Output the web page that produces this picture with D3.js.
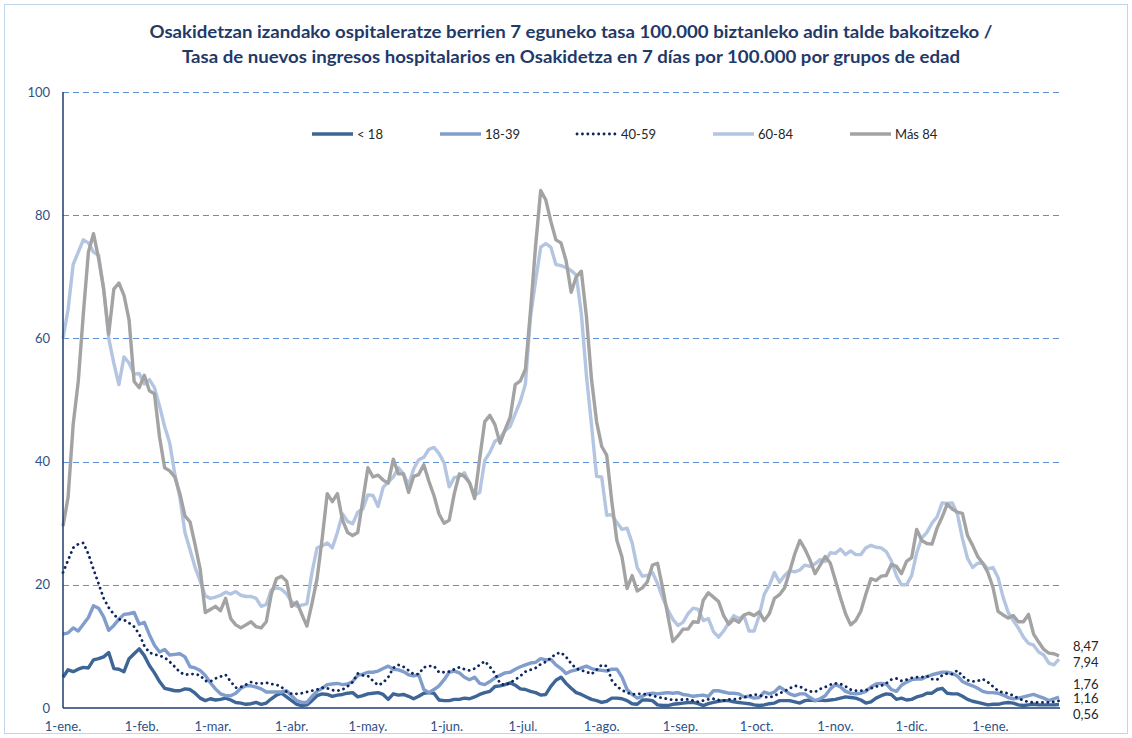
<!DOCTYPE html>
<meta charset="utf-8">
<style>
body { margin: 0; background: #fff; }
svg { display: block; font-family: Lato, "Liberation Sans", sans-serif; }
.grid line { stroke: #5b8fd8; stroke-dasharray: 6,4; stroke-width: 1; }
.axis-line { stroke: #1f3b6c; stroke-width: 1.5; }
.tick-label { font-size: 13px; fill: #2f5185; }
.legend text, .end-label { font-size: 13px; fill: #262626; }
.title { font-weight: bold; font-size: 16.5px; fill: #1f3a68; }
.serie { fill: none; stroke-linejoin: round; }
</style>
<svg width="1132" height="738"></svg>
<script src="https://d3js.org/d3.v7.min.js"></script>

<script>
// valores cada 2 dias desde el 1-ene-2021
var startDate = new Date(2021, 0, 1);
var stepDays = 2;

var menos18 = [
  5, 6.2, 5.9, 6.3, 6.6, 6.5, 7.8, 8, 8.3, 9,
  6.4, 6.3, 5.9, 8, 8.8, 9.6, 8.5, 6.9, 5.7, 4.3,
  3.2, 3, 2.8, 2.8, 3.1, 3, 2.4, 1.6, 1.2, 1.5,
  1.3, 1.4, 1.6, 1.3, 0.9, 0.8, 0.6, 0.7, 0.9, 0.6,
  0.8, 1.5, 2.1, 2.4, 1.8, 1.2, 0.6, 0.4, 0.5, 1.2,
  2, 2.3, 2.2, 1.9, 2.1, 2.2, 2.4, 2.5, 1.8, 2,
  2.3, 2.4, 2.5, 2.2, 1.4, 2.3, 2.1, 2.2, 1.9, 1.5,
  1.9, 2.4, 2.5, 2.4, 1.3, 1.2, 1.2, 1.4, 1.4, 1.6,
  1.5, 1.8, 2.2, 2.5, 2.7, 3.5, 3.6, 3.8, 4.1, 3.7,
  3.1, 3, 2.7, 2.5, 2.1, 2.2, 3.5, 4.5, 5, 4,
  3.2, 2.5, 2.2, 1.8, 1.4, 1.2, 0.9, 1.1, 1.6, 1.6,
  1.5, 1.2, 0.7, 0.6, 1.3, 1.3, 1.2, 0.5, 0.4, 0.4,
  0.6, 0.7, 0.8, 0.9, 0.9, 0.7, 0.4, 0.7, 0.9, 1.1,
  1.2, 1.2, 1, 0.9, 0.8, 0.7, 0.5, 0.4, 0.5, 0.7,
  0.8, 1.2, 1.2, 1.2, 1, 0.8, 1.2, 1.3, 1.2, 1.3,
  1.2, 1.3, 1.4, 1.6, 1.8, 1.7, 1.6, 1.3, 0.8, 1,
  1.6, 2, 2.3, 2.2, 1.4, 1.6, 1.3, 1.4, 1.8, 2,
  2.4, 2.4, 3, 3.2, 2.4, 2.3, 2.3, 1.9, 1.4, 1.1,
  0.9, 0.7, 0.5, 0.6, 0.6, 0.8, 0.9, 0.8, 0.5, 0.4,
  0.5, 0.6, 0.5, 0.5, 0.5, 0.5, 0.56];

var edad18_39 = [
  12, 12.2, 13, 12.5, 13.6, 14.7, 16.6, 16.2, 14.8, 12.6,
  13.4, 14.4, 15.2, 15.3, 15.5, 13.6, 13.9, 11.9, 10.2, 9.1,
  9.5, 8.6, 8.7, 8.8, 8.3, 6.7, 6.5, 6.1, 5.3, 4.1,
  3.1, 2.3, 2, 2, 2.4, 3.2, 3.6, 3.6, 3.4, 3.1,
  2.6, 2.6, 2.6, 2.6, 2.8, 2, 1.2, 0.9, 0.9, 1.9,
  2.7, 3.2, 3.8, 3.9, 4, 3.8, 3.9, 4.3, 5.3, 5.5,
  5.8, 5.8, 6, 6.4, 6.8, 6.3, 6.2, 5.9, 5.4, 5.2,
  5.4, 3, 2.5, 3, 3.6, 4.6, 5.8, 6, 5.7, 5,
  4.6, 5, 4, 3.8, 4.3, 4.9, 5.3, 5.7, 5.8, 6.3,
  6.7, 7, 7.3, 7.4, 8, 7.8, 7.9, 7, 6.4, 5.6,
  6, 6.2, 6.5, 6.8, 6.4, 6.2, 6.1, 6, 6.3, 6.3,
  5, 3, 2.2, 1.6, 1.9, 2.3, 2.4, 2.3, 2.4, 2.5,
  2.4, 2.5, 2.2, 2.1, 1.9, 2, 2.1, 1.9, 2.8, 2.8,
  2.6, 2.4, 2.4, 2.3, 1.8, 1.9, 1.6, 1.7, 2.6, 2.3,
  2.6, 3.4, 2.9, 2.3, 2, 2.3, 2.3, 1.7, 1.2, 1.5,
  2, 3.1, 3.8, 3.4, 2.7, 2.4, 2.3, 2.4, 2.7, 3.4,
  3.9, 4, 3.9, 3, 2.7, 3.7, 4.2, 4.6, 4.7, 4.7,
  5.1, 5.4, 5.6, 5.8, 5.8, 5.6, 5.2, 4.3, 3.9, 3.6,
  3.2, 2.7, 2.5, 2.5, 2.4, 2.1, 1.7, 1.5, 1.6, 1.8,
  2, 2.2, 1.9, 1.6, 1.2, 1.5, 1.76];

var edad40_59 = [
  22, 24, 26, 26.6, 26.8, 25, 22.5, 20.2, 17.8, 16.3,
  15.2, 14.4, 14.3, 13.8, 13.2, 12, 10.1, 9, 8.7, 8.5,
  8.2, 7.5, 6.7, 5.8, 5.4, 5.5, 5.5, 5.3, 4.4, 4.3,
  4.8, 5.1, 5.4, 4.3, 3.3, 3.4, 3.8, 4.2, 4, 4,
  4.1, 3.9, 3.8, 3.4, 2.6, 2.3, 2.3, 2.4, 2.6, 2.8,
  3, 3.3, 3.2, 2.9, 2.8, 3, 3.5, 4.2, 5.6, 5.3,
  5.2, 4.4, 3.7, 4.1, 5, 6.5, 7, 6.7, 6.1, 5.5,
  5.5, 6.6, 6.8, 6.8, 5.8, 5.8, 5.9, 6.3, 6.6, 6.3,
  6.1, 6.4, 7, 7.6, 6.7, 5.6, 4, 3.7, 4.1, 4.6,
  5.2, 5.9, 6.2, 6.5, 7.1, 7.5, 8.1, 8.8, 9, 8.3,
  7.2, 6.4, 6.1, 5.9, 5.5, 6.2, 7, 6.8, 4.5, 3.5,
  2.9, 2.5, 2.2, 2.3, 2.3, 2.2, 2, 1.8, 1.6, 1.5,
  1.3, 1.3, 1.4, 1.4, 1.2, 1, 1.2, 1.4, 1.5, 1.3,
  1.2, 1.4, 1.4, 1.5, 1.7, 2, 2.2, 2.1, 1.8, 1.7,
  2, 2.4, 2.7, 3.2, 3.6, 3.5, 3, 2.7, 2.6, 3.1,
  3.4, 3.8, 4, 3.9, 3.5, 3, 2.8, 2.8, 2.9, 3.2,
  3.5, 3.6, 4, 4.6, 4.8, 4.4, 4.6, 4.9, 5, 5,
  5.2, 4.7, 4.6, 5.3, 5.6, 5.5, 6.1, 5.2, 4.5, 4.3,
  4.4, 4.7, 4.2, 3.5, 2.8, 2.5, 2.4, 2, 1.6, 1.2,
  1, 0.9, 0.9, 0.9, 0.9, 1, 1.16];

var edad60_84 = [
  60, 64.7, 72, 74, 76, 75.5, 74, 73.5, 68, 60,
  56, 52.5, 57, 56, 54.2, 54.3, 52.6, 53.3, 52, 49,
  45.7, 43, 38, 34.2, 28.5, 25.7, 22.8, 20.6, 18.2, 17.8,
  18, 18.3, 18.8, 18.5, 18.9, 18.3, 18.1, 18.1, 17.8, 16.5,
  16.8, 19.2, 19.5, 19.3, 18.5, 17.3, 16.5, 16.7, 16.9, 22,
  26, 26.3, 26.8, 26, 28.5, 31.5, 30.3, 29.9, 31.8, 32.3,
  34.6, 34.5, 32.7, 35.8, 36.7, 37.5, 39, 38, 36.2, 38.8,
  40.3, 40.7, 42, 42.3, 41.3, 39.8, 35.9, 37.4, 37.6, 38.2,
  36.5, 34.5, 35, 40.2, 41.5, 43.3, 43.8, 45, 45.7, 47.8,
  49.8, 52.6, 63.5, 69.3, 74.8, 75.4, 74.8, 72, 71.8, 71.5,
  71, 70.3, 64, 54, 46, 37.6, 37.5, 31.3, 31.4, 30.1,
  29, 29.2, 26.8, 22.8, 21.4, 21.5, 22, 20.2, 17.9, 16,
  14.4, 13.4, 13.9, 15.3, 16.2, 16, 14.2, 14.5, 12.4, 11.5,
  12.5, 13.8, 15, 14.5, 15, 12.5, 12.5, 15, 18.5, 19.9,
  22, 20.4, 21.5, 22.3, 22.1, 22.4, 23.2, 23, 23.4, 24.1,
  23.8, 25.2, 25.1, 25.8, 24.9, 25.5, 24.9, 24.9, 26, 26.4,
  26.1, 26, 25.4, 23.9, 21.5, 20, 20, 21.5, 25.2, 27.6,
  28.5, 30, 31, 33.3, 33.2, 33.3, 31.5, 27.5, 24.3, 22.8,
  23.5, 23.5, 22.6, 22.8, 21.2, 18, 15.5, 14.2, 13, 11.5,
  10.5, 10.2, 9.1, 8.6, 7.3, 7, 7.94];

var mas84 = [
  29.5, 34.2, 46, 53, 64, 74, 77, 73, 68, 60.7,
  68, 69, 67, 63, 53, 52, 54, 51.5, 51, 44,
  39, 38.5, 37.5, 34.8, 31.2, 30.2, 26.5, 22.5, 15.5, 16,
  16.5, 15.8, 17.8, 14.5, 13.5, 13, 13.5, 14, 13.2, 13,
  14, 18.5, 21, 21.4, 20.6, 16.5, 17.2, 15.2, 13.3, 17,
  21, 27.5, 34.8, 33.5, 34.8, 30.5, 28.5, 28, 28.5, 33.7,
  39, 37.5, 37.8, 37, 36.5, 40.4, 38, 38, 35, 37.6,
  37.9, 39.5, 36.8, 34.5, 31.5, 30, 30.5, 34.8, 38, 37.6,
  36.6, 34, 40.5, 46.5, 47.5, 46, 43, 45.2, 47.2, 52.5,
  53.1, 55, 64.5, 75, 84, 82.5, 79, 76, 75.5, 72.6,
  67.5, 70, 70.9, 63.6, 53.4, 46.5, 42.5, 41, 33.5, 27.2,
  24.5, 19.4, 21.5, 19, 19.5, 20.5, 23.2, 23.5, 19.5, 15.1,
  10.8, 11.7, 12.8, 12.8, 14, 13.9, 17.5, 18.7, 18, 17.3,
  15, 13.6, 14.4, 13.9, 15.1, 15.4, 15, 15.6, 14.2, 15.3,
  17.8, 18.4, 19.5, 22.2, 25, 27.2, 25.8, 24, 21.8, 23.2,
  24.6, 23.5, 20.7, 17.9, 15.3, 13.5, 14.2, 15.7, 18.5, 21,
  20.7, 21.4, 21.5, 23.3, 23, 21.8, 23.8, 24.4, 29, 27.2,
  26.7, 26.6, 29.2, 31, 33.1, 32.3, 31.8, 31.6, 28, 26.4,
  24.6, 23.5, 22, 19.6, 15.7, 15.1, 14.6, 15, 14, 14,
  15.2, 12, 10.7, 9.5, 8.9, 8.8, 8.47];

var seriesNames = ["< 18", "18-39", "40-59", "60-84", "Más 84"];
var yTicks = [0, 20, 40, 60, 80, 100];
var monthNames = ["ene.", "feb.", "mar.", "abr.", "may.", "jun.", "jul.", "ago.", "sep.", "oct.", "nov.", "dic."];
var titleLines = [
  "Osakidetzan izandako ospitaleratze berrien 7 eguneko tasa 100.000 biztanleko adin talde bakoitzeko /",
  "Tasa de nuevos ingresos hospitalarios en Osakidetza en 7 días por 100.000 por grupos de edad"
];
</script>

<script>
var svg = d3.select("svg"),
    width = +svg.attr("width"),
    height = +svg.attr("height");

var margin = {top: 92, left: 63, bottom: 30};
var plotRight = 1059;

var series = [
  {name: seriesNames[0], values: menos18,   color: "#3d6595", width: 3.4, dash: null,      labelShift: 10},
  {name: seriesNames[1], values: edad18_39, color: "#809dcc", width: 3.4, dash: null,      labelShift: -13},
  {name: seriesNames[2], values: edad40_59, color: "#0d2660", width: 2.8, dash: "0.1 5.3", labelShift: -2},
  {name: seriesNames[3], values: edad60_84, color: "#b4c5e1", width: 3.4, dash: null,      labelShift: 3},
  {name: seriesNames[4], values: mas84,     color: "#a3a3a3", width: 3.4, dash: null,      labelShift: -9}
];
var legendX = [312, 440, 577, 713, 850];

series.forEach(function(s) {
  s.points = s.values.map(function(v, i) {
    return {date: d3.timeDay.offset(startDate, i * stepDays), value: v};
  });
});

var endDate = series[0].points[series[0].points.length - 1].date;

var x = d3.scaleTime()
    .domain([startDate, endDate])
    .range([margin.left, plotRight]);

var y = d3.scaleLinear()
    .domain([0, 100])
    .range([height - margin.bottom, margin.top]);

// marco exterior
svg.append("rect")
    .attr("x", 4.5).attr("y", 4.5)
    .attr("width", width - 9).attr("height", height - 9)
    .attr("fill", "none")
    .attr("stroke", "#c3d5ec");

svg.append("g")
  .selectAll("text")
  .data(titleLines)
  .enter().append("text")
    .attr("class", "title")
    .attr("x", 571)
    .attr("y", function(d, i) { return 38 + i * 25; })
    .attr("text-anchor", "middle")
    .attr("textLength", function(d, i) { return i === 0 ? 843 : 778; })
    .attr("lengthAdjust", "spacingAndGlyphs")
    .text(function(d) { return d; });

svg.append("g")
    .attr("class", "grid")
  .selectAll("line")
  .data(yTicks.filter(function(d) { return d > 0; }))
  .enter().append("line")
    .attr("x1", margin.left)
    .attr("x2", plotRight)
    .attr("y1", function(d) { return Math.round(y(d)) + 0.5; })
    .attr("y2", function(d) { return Math.round(y(d)) + 0.5; });

svg.append("g")
  .selectAll("text")
  .data(yTicks)
  .enter().append("text")
    .attr("class", "tick-label")
    .attr("x", margin.left - 13)
    .attr("y", function(d) { return y(d); })
    .attr("dy", "0.35em")
    .attr("text-anchor", "end")
    .text(function(d) { return d; });

svg.append("g")
  .selectAll("text")
  .data(x.ticks(d3.timeMonth.every(1)))
  .enter().append("text")
    .attr("class", "tick-label")
    .attr("x", function(d) { return x(d); })
    .attr("y", height - margin.bottom + 23)
    .attr("text-anchor", "middle")
    .text(function(d) { return d.getDate() + "-" + monthNames[d.getMonth()]; });

var line = d3.line()
    .x(function(d) { return x(d.date); })
    .y(function(d) { return y(d.value); });

svg.append("g")
  .selectAll("path")
  .data(series)
  .enter().append("path")
    .attr("class", "serie")
    .attr("d", function(d) { return line(d.points); })
    .attr("stroke", function(d) { return d.color; })
    .attr("stroke-width", function(d) { return d.width; })
    .attr("stroke-dasharray", function(d) { return d.dash; })
    .attr("stroke-linecap", function(d) { return d.dash ? "round" : "butt"; });

svg.append("line")
    .attr("class", "axis-line")
    .attr("x1", margin.left).attr("x2", margin.left)
    .attr("y1", y(100)).attr("y2", y(0));

svg.append("line")
    .attr("class", "axis-line")
    .attr("x1", margin.left).attr("x2", plotRight + 1)
    .attr("y1", y(0)).attr("y2", y(0));

var es = d3.formatLocale({decimal: ",", thousands: ".", grouping: [3], currency: ["", " €"]});
var fmt = es.format(".2f");

svg.append("g")
  .selectAll("text")
  .data(series)
  .enter().append("text")
    .attr("class", "end-label")
    .attr("x", plotRight + 14)
    .attr("y", function(d) { return y(d.values[d.values.length - 1]) + d.labelShift; })
    .attr("dy", "0.35em")
    .text(function(d) { return fmt(d.values[d.values.length - 1]); });

var legend = svg.append("g")
    .attr("class", "legend")
  .selectAll("g")
  .data(series)
  .enter().append("g")
    .attr("transform", function(d, i) { return "translate(" + legendX[i] + ",134)"; });

legend.append("line")
    .attr("x1", 0)
    .attr("x2", function(d) { return d.dash ? 38 : 41; })
    .attr("stroke", function(d) { return d.color; })
    .attr("stroke-width", function(d) { return d.width; })
    .attr("stroke-dasharray", function(d) { return d.dash; })
    .attr("stroke-linecap", function(d) { return d.dash ? "round" : "butt"; });

legend.append("text")
    .attr("x", function(d) { return d.dash ? 44 : 45; })
    .attr("dy", "0.35em")
    .text(function(d) { return d.name; });
</script>
